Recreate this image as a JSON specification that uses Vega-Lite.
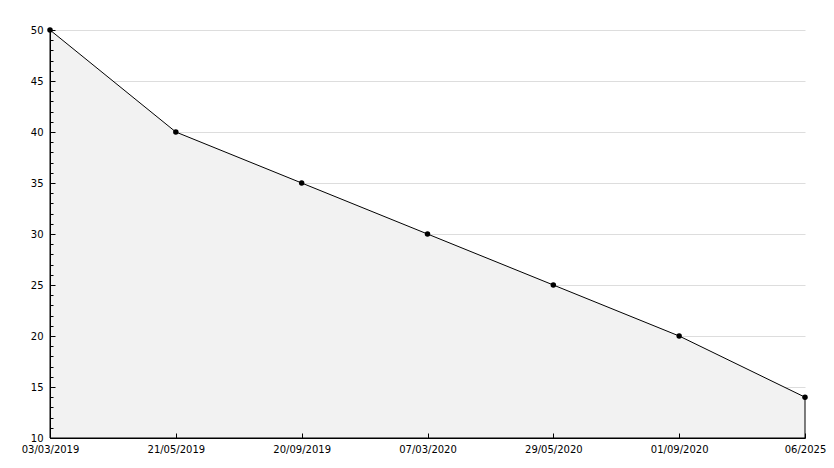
{
  "$schema": "https://vega.github.io/schema/vega-lite/v6.json",
  "width": 755,
  "height": 408,
  "autosize": {"type": "none"},
  "padding": {"left": 50, "top": 30, "right": 29, "bottom": 30},
  "background": "white",
  "config": {
    "view": {"stroke": null},
    "font": "DejaVu Sans",
    "axis": {"labelFont": "DejaVu Sans", "labelFontSize": 10, "labelColor": "black", "domainColor": "black", "tickColor": "black", "domainWidth": 1, "tickWidth": 1}
  },
  "data": {
    "values": [
      {"date": "03/03/2019", "value": 50},
      {"date": "21/05/2019", "value": 40},
      {"date": "20/09/2019", "value": 35},
      {"date": "07/03/2020", "value": 30},
      {"date": "29/05/2020", "value": 25},
      {"date": "01/09/2020", "value": 20},
      {"date": "06/2025", "value": 14}
    ]
  },
  "encoding": {
    "x": {
      "field": "date",
      "type": "ordinal",
      "sort": null,
      "scale": {"type": "point", "padding": 0},
      "axis": {"title": null, "labelAngle": 0, "tickSize": -5, "labelPadding": 11, "grid": false, "labelOverlap": false, "zindex": 1}
    }
  },
  "layer": [
    {
      "mark": {"type": "area", "color": "#f2f2f2", "opacity": 1, "fillOpacity": 1, "stroke": "black", "strokeWidth": 1, "interpolate": "linear"},
      "encoding": {
        "y": {
          "field": "value",
          "type": "quantitative",
          "scale": {"domain": [10, 50], "nice": false, "zero": false},
          "axis": {"title": null, "orient": "left", "values": [15, 20, 25, 30, 35, 40, 45, 50], "grid": true, "gridColor": "#dddddd", "gridWidth": 1, "domain": false, "ticks": false, "labels": false, "zindex": 0}
        },
        "y2": {"datum": 10}
      }
    },
    {
      "mark": {"type": "point", "filled": true, "color": "black", "size": 30, "opacity": 1, "shape": "circle"},
      "encoding": {
        "y": {
          "field": "value",
          "type": "quantitative",
          "scale": {"domain": [10, 50], "nice": false, "zero": false},
          "axis": {
            "title": null,
            "orient": "left",
            "values": [10,11,12,13,14,15,16,17,18,19,20,21,22,23,24,25,26,27,28,29,30,31,32,33,34,35,36,37,38,39,40,41,42,43,44,45,46,47,48,49,50],
            "labelExpr": "datum.value % 5 === 0 ? datum.label : ''",
            "labelOverlap": false,
            "labelPadding": 12,
            "tickSize": {"condition": {"test": "datum.value % 5 === 0", "value": -5}, "value": -3},
            "grid": false,
            "zindex": 1
          }
        }
      }
    }
  ],
  "resolve": {"axis": {"y": "independent"}}
}
